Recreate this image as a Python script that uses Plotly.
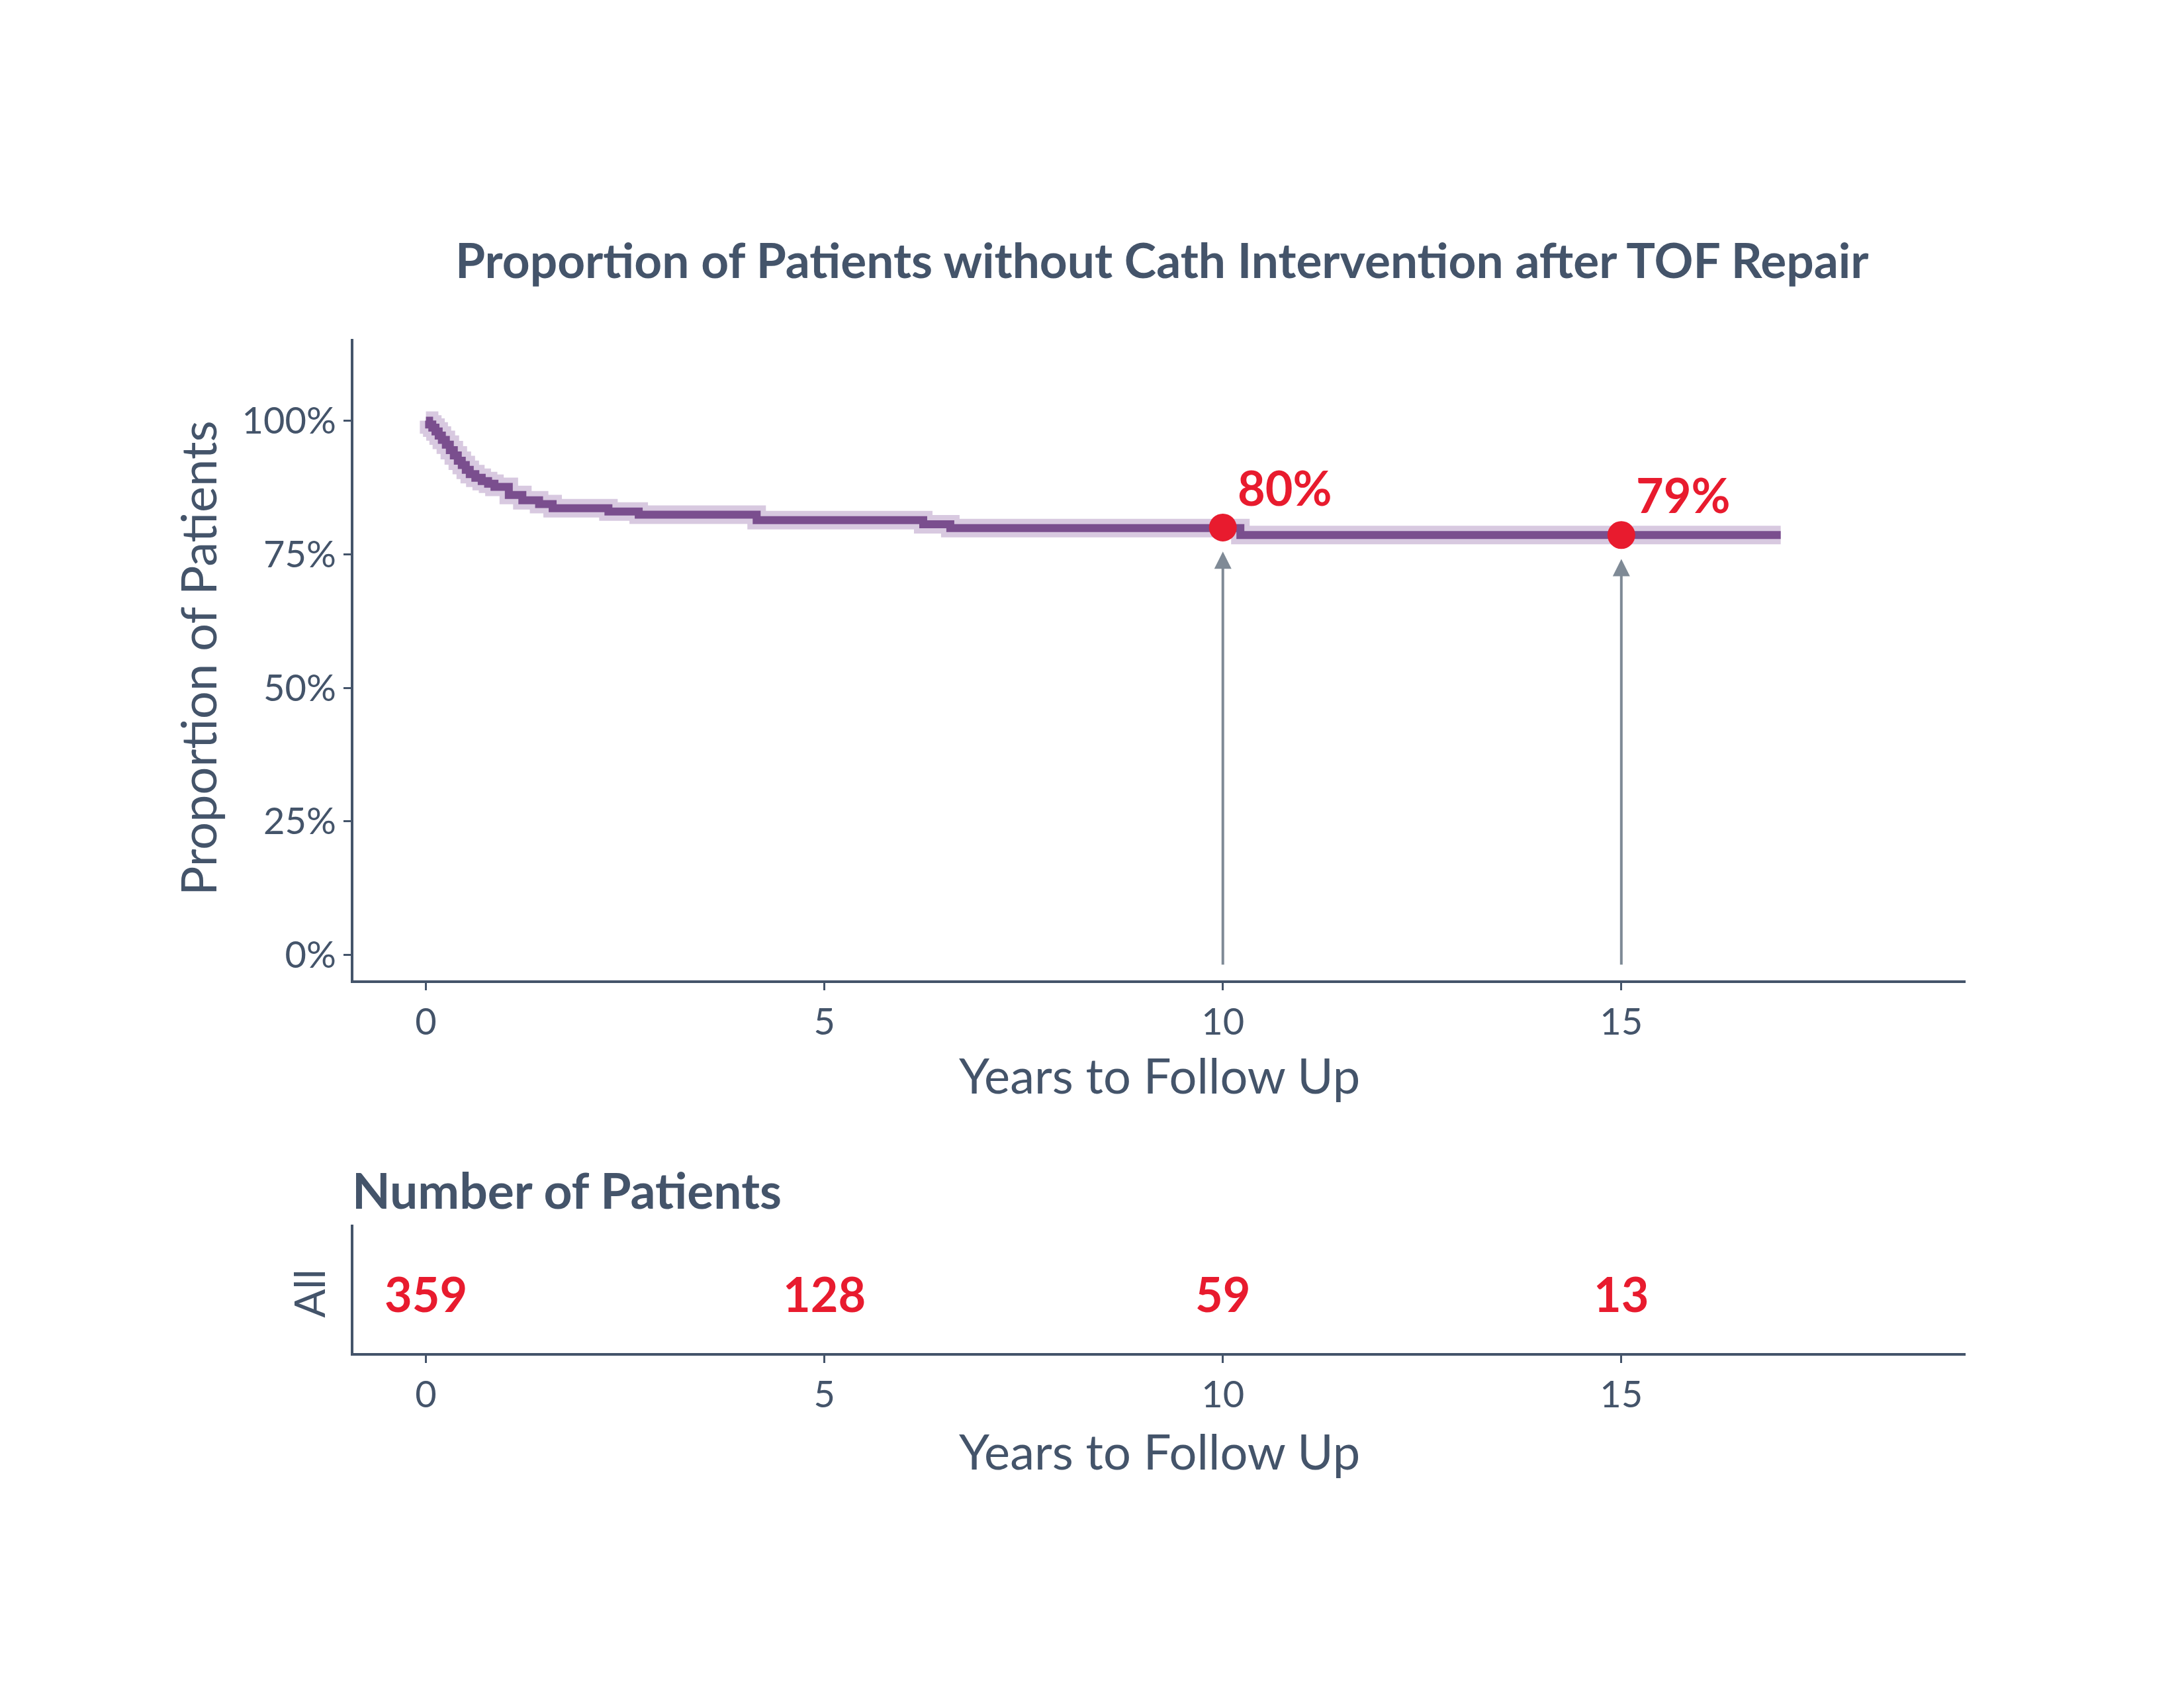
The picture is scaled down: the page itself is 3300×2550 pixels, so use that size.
import plotly.graph_objects as go

# ---- data ----
years = [0, 0.04, 0.08, 0.12, 0.16, 0.20, 0.25, 0.30, 0.35, 0.40, 0.45, 0.50, 0.55,
         0.62, 0.70, 0.78, 0.86, 1.04, 1.21, 1.42, 1.59, 2.29, 2.67, 4.15, 6.24,
         6.58, 10.22, 17.0]
survival = [1.0, 0.993, 0.987, 0.980, 0.972, 0.964, 0.955, 0.945, 0.935, 0.925, 0.917,
            0.908, 0.900, 0.893, 0.887, 0.882, 0.876, 0.861, 0.851, 0.844, 0.836,
            0.830, 0.824, 0.814, 0.806, 0.799, 0.786, 0.786]

mark_years = [10, 15]
mark_surv = [0.80, 0.786]
mark_labels = ["80%", "79%"]

risk_years = [0, 5, 10, 15]
risk_counts = [359, 128, 59, 13]
risk_group = ["All", "All", "All", "All"]

x_ticks = [0, 5, 10, 15]
y_ticks = [0, 0.25, 0.5, 0.75, 1.0]
y_ticklabels = ["0%", "25%", "50%", "75%", "100%"]

# ---- style ----
TXT = "#44546A"
PURPLE = "#7A4E8E"
BAND = "#D8C9E0"
RED = "#E81B2E"
ARROW = "#7F8A96"
FONT = "Lato"
W, H = 3300, 2550
OFF = 8  # page body margin of the browser


def xp(px):
    return (px - OFF) / W


def yp(py):
    return 1 - (py - OFF) / H


fig = go.Figure()

fig.add_trace(go.Scatter(x=years, y=survival, mode="lines", line_shape="hv",
                         line=dict(color=BAND, width=28), hoverinfo="skip",
                         showlegend=False, xaxis="x", yaxis="y"))
fig.add_trace(go.Scatter(x=years, y=survival, mode="lines", line_shape="hv",
                         line=dict(color=PURPLE, width=12), showlegend=False,
                         xaxis="x", yaxis="y"))
fig.add_trace(go.Scatter(x=mark_years, y=mark_surv, mode="markers",
                         marker=dict(color=RED, size=42), showlegend=False,
                         xaxis="x", yaxis="y"))

fig.add_trace(go.Scatter(x=risk_years, y=risk_group, mode="text",
                         text=[str(c) for c in risk_counts],
                         textfont=dict(family=FONT, size=72, color=RED, weight="bold"),
                         textposition="middle center", showlegend=False,
                         xaxis="x2", yaxis="y2"))

annotations = []
for yr, s, lab in zip(mark_years, mark_surv, mark_labels):
    annotations.append(dict(x=yr, y=s - 0.045, ax=yr, ay=-0.02, xref="x", yref="y",
                            axref="x", ayref="y", showarrow=True, arrowhead=2,
                            arrowsize=1.3, arrowwidth=4, arrowcolor=ARROW,
                            standoff=0, text=""))
    annotations.append(dict(x=yr + 0.17, y=s + 0.02, xref="x", yref="y",
                            xanchor="left", yanchor="bottom", showarrow=False,
                            text=lab,
                            font=dict(family=FONT, size=72, color=RED, weight="bold")))

annotations += [
    dict(text="Proportion of Patients without Cath Intervention after TOF Repair",
         x=xp(1755), y=yp(392), xref="paper", yref="paper", xanchor="center",
         yanchor="middle", showarrow=False,
         font=dict(family=FONT, size=73, color=TXT, weight="bold")),
    dict(text="Years to Follow Up", x=xp(1752), y=yp(1623), xref="paper",
         yref="paper", xanchor="center", yanchor="middle", showarrow=False,
         font=dict(family=FONT, size=74, color=TXT)),
    dict(text="Years to Follow Up", x=xp(1752), y=yp(2191), xref="paper",
         yref="paper", xanchor="center", yanchor="middle", showarrow=False,
         font=dict(family=FONT, size=74, color=TXT)),
    dict(text="Proportion of Patients", x=xp(298), y=yp(995), xref="paper",
         yref="paper", xanchor="center", yanchor="middle", textangle=-90,
         showarrow=False, font=dict(family=FONT, size=74, color=TXT)),
    dict(text="Number of Patients", x=xp(530), y=yp(1797), xref="paper",
         yref="paper", xanchor="left", yanchor="middle", showarrow=False,
         font=dict(family=FONT, size=75, color=TXT, weight="bold")),
]

axis_common = dict(showline=True, linecolor=TXT, linewidth=4, showgrid=False,
                   zeroline=False, tickfont=dict(family=FONT, size=56, color=TXT),
                   ticks="outside", ticklen=11, tickwidth=3, tickcolor=TXT)

fig.update_layout(
    width=W, height=H, paper_bgcolor="white", plot_bgcolor="white",
    margin=dict(l=0, r=0, t=0, b=0), showlegend=False,
    xaxis=dict(domain=[xp(534), xp(2970)], range=[-0.91, 19.32], tickvals=x_ticks,
               anchor="y", **axis_common),
    yaxis=dict(domain=[yp(1481), yp(512)], range=[-0.0475, 1.153],
               tickvals=y_ticks, ticktext=y_ticklabels, anchor="x", **axis_common),
    xaxis2=dict(domain=[xp(534), xp(2970)], range=[-0.91, 19.32], tickvals=x_ticks,
                anchor="y2", **axis_common),
    yaxis2=dict(domain=[yp(2044), yp(1850)], type="category",
                range=[-0.455, 0.645], anchor="x2", tickangle=-90, ticklabelstandoff=13,
                **{**axis_common, "ticks": "",
                   "tickfont": dict(family=FONT, size=64, color=TXT)}),
    annotations=annotations,
)

fig.write_html("out.html")
